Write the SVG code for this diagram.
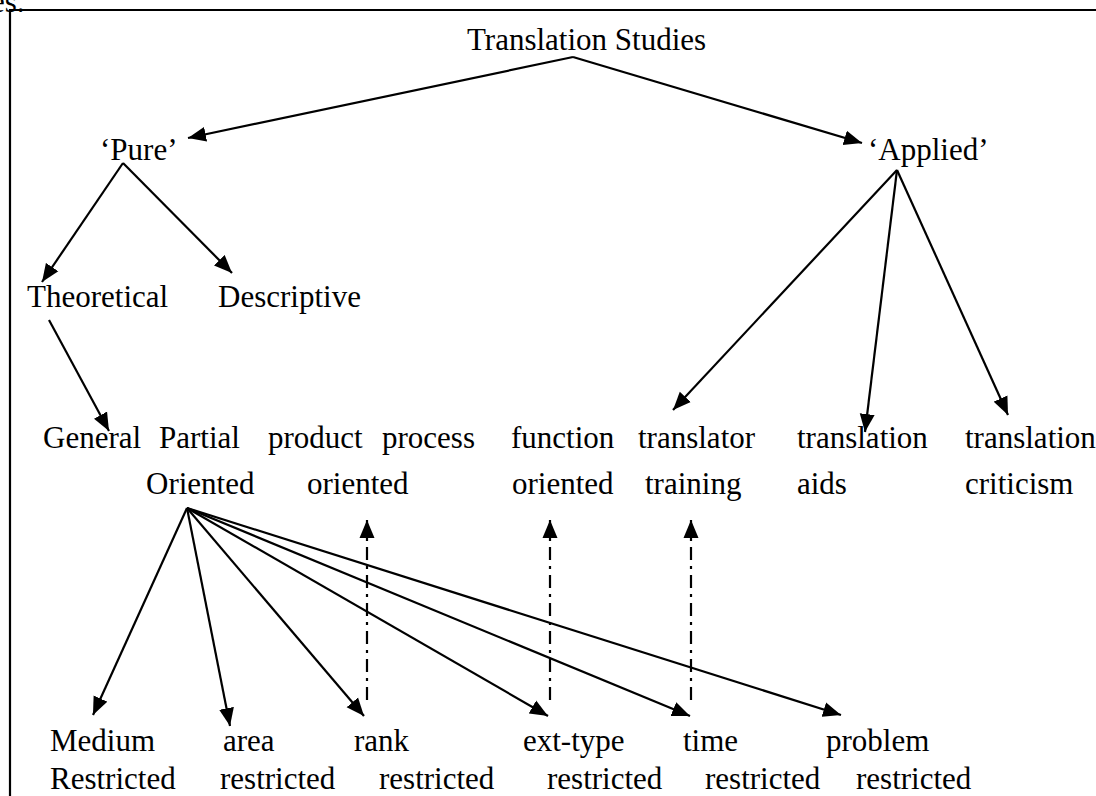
<svg xmlns="http://www.w3.org/2000/svg" width="1096" height="796" viewBox="0 0 1096 796">
<style>
text{font-family:"Liberation Serif","Times New Roman",serif;font-size:31px;fill:#000}
.ln{stroke:#000;stroke-width:2.2;fill:none}
.arr{marker-end:url(#ah)}
.dd{stroke-dasharray:13,6,3,6}
.frame{stroke:#000;stroke-width:2.2;fill:none}
</style>
<defs>
<marker id="ah" markerUnits="userSpaceOnUse" markerWidth="19" markerHeight="16" refX="18" refY="8" orient="auto">
<path d="M0,0.5 L18,8 L0,15.5 z" fill="#000"/>
</marker>
</defs>
<rect width="1096" height="796" fill="#fff"/>
<text x="-9" y="12">es.</text>
<path class="frame" d="M10,796 L10,10 L1096,10"/>
<g id="connectors">
<line class="ln arr" x1="573" y1="57" x2="188" y2="138"/>
<line class="ln arr" x1="573" y1="57" x2="862" y2="143"/>
<line class="ln arr" x1="123" y1="163" x2="42" y2="282"/>
<line class="ln arr" x1="123" y1="163" x2="232" y2="273"/>
<line class="ln arr" x1="49" y1="320" x2="109" y2="431"/>
<line class="ln arr" x1="897" y1="170" x2="673" y2="410"/>
<line class="ln arr" x1="897" y1="170" x2="865" y2="432"/>
<line class="ln arr" x1="897" y1="170" x2="1008" y2="415"/>
<line class="ln arr" x1="187" y1="508" x2="93" y2="715"/>
<line class="ln arr" x1="187" y1="508" x2="230" y2="726"/>
<line class="ln arr" x1="187" y1="508" x2="364" y2="716"/>
<line class="ln arr" x1="187" y1="508" x2="548" y2="716"/>
<line class="ln arr" x1="187" y1="508" x2="690" y2="716"/>
<line class="ln arr" x1="187" y1="508" x2="841" y2="715"/>
<line class="ln arr dd" x1="367" y1="700" x2="367" y2="520"/>
<line class="ln arr dd" x1="550" y1="700" x2="550" y2="520"/>
<line class="ln arr dd" x1="691" y1="700" x2="691" y2="520"/>
</g>
<g id="translation-studies"><text x="467" y="50">Translation Studies</text></g>
<g id="pure"><text x="100" y="160">‘Pure’</text></g>
<g id="applied"><text x="868" y="160">‘Applied’</text></g>
<g id="theoretical"><text x="27" y="307">Theoretical</text></g>
<g id="descriptive"><text x="218" y="307">Descriptive</text></g>
<g id="general"><text x="43" y="448">General</text></g>
<g id="partial-oriented"><text x="159" y="448">Partial</text><text x="146" y="494">Oriented</text></g>
<g id="product-process-oriented"><text x="268" y="448">product</text><text x="382" y="448">process</text><text x="307" y="494">oriented</text></g>
<g id="function-oriented"><text x="511" y="448">function</text><text x="512" y="494">oriented</text></g>
<g id="translator-training"><text x="638" y="448">translator</text><text x="645" y="494">training</text></g>
<g id="translation-aids"><text x="797" y="448">translation</text><text x="797" y="494">aids</text></g>
<g id="translation-criticism"><text x="965" y="448">translation</text><text x="965" y="494">criticism</text></g>
<g id="medium-restricted"><text x="50" y="751">Medium</text><text x="50" y="789">Restricted</text></g>
<g id="area-restricted"><text x="223" y="751">area</text><text x="220" y="789">restricted</text></g>
<g id="rank-restricted"><text x="354" y="751">rank</text><text x="379" y="789">restricted</text></g>
<g id="text-type-restricted"><text x="523" y="751">ext-type</text><text x="547" y="789">restricted</text></g>
<g id="time-restricted"><text x="683" y="751">time</text><text x="705" y="789">restricted</text></g>
<g id="problem-restricted"><text x="826" y="751">problem</text><text x="856" y="789">restricted</text></g>
</svg>
